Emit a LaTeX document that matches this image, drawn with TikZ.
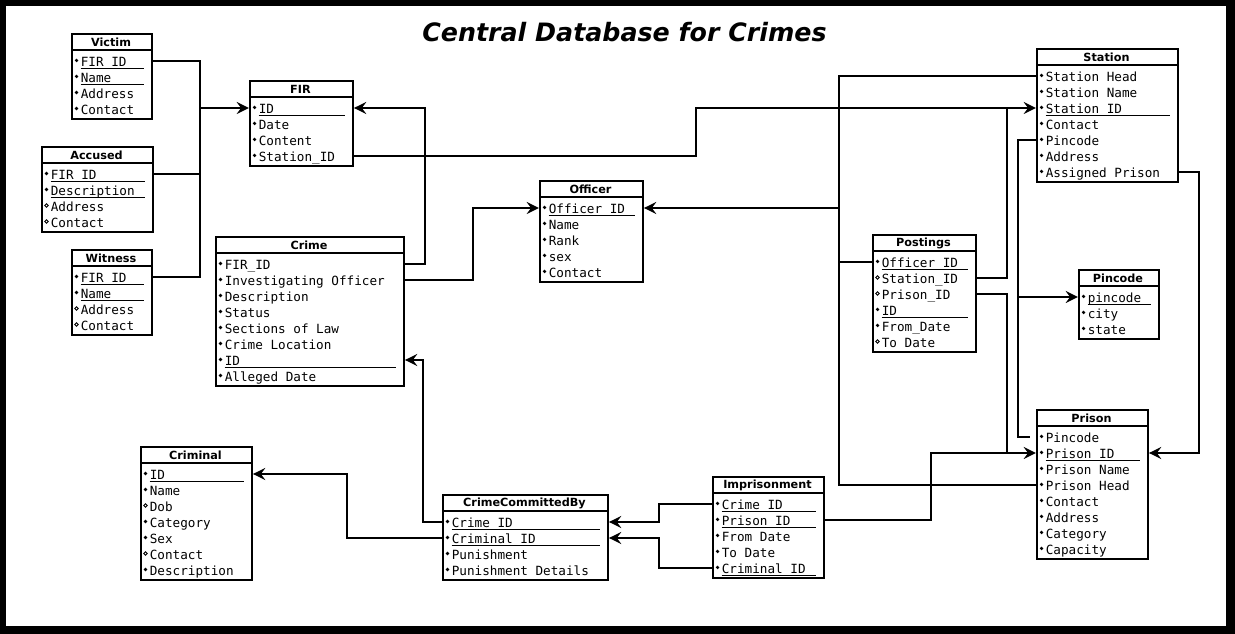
\documentclass[tikz,border=0pt]{standalone}
\usepackage{fontspec}
\setmainfont{DejaVu Sans}
\setsansfont{DejaVu Sans}
\setmonofont{DejaVu Sans Mono}
\usetikzlibrary{arrows.meta}
\tikzset{
        tablebox/.style={draw=black, line width=1.1pt, rectangle, inner sep=0pt},
        tablehead/.style={font=\sffamily\bfseries\fontsize{6.4}{7}\selectfont, inner sep=0pt},
        fieldtext/.style={font=\ttfamily\fontsize{7.2}{8}\selectfont, anchor=west, inner sep=0pt, text height=8.4pt, text depth=1.6pt},
        keyline/.style={line width=0.55pt},
        relline/.style={line width=1.1pt},
        relarrow/.style={line width=1.1pt, -{Stealth[length=7pt,width=6.8pt,inset=2.5pt]}},
        headline/.style={font=\sffamily\bfseries\itshape\fontsize{14.4}{17}\selectfont, inner sep=0pt}
          }
\newcommand{\erbox}[6]{%
  \node[tablehead] (#1-h) at (#3+#5/2,#4+9.5) {#2};
  \foreach \kind/\txt [count=\i] in {#6} {
    \pgfmathsetmacro\ry{#4+12+16*\i}
    \node[fieldtext] (#1-\i) at (#3+9.5,\ry) {\txt};
    \if o\kind \draw[line width=0.45pt] (#3+5.5,\ry-0.5) circle[radius=1pt];
    \else \fill (#3+5.5,\ry-0.5) circle[radius=1pt]; \fi
    \if k\kind \draw[keyline] (#3+9.5,\ry+7.5) -- (#3+#5-7.5,\ry+7.5); \fi
    \xdef\nrows{\i}
  }
  \draw[tablebox] (#3,#4+17) -- (#3+#5,#4+17);
  \node[tablebox, anchor=north west, minimum width=#5*0.02cm, minimum height=(21.5+16*\nrows)*0.02cm] (#1) at (#3,#4) {};
}

\begin{document}
\begin{tikzpicture}[x=0.02cm, y=-0.02cm]
  \useasboundingbox (0,0) rectangle (1235,634);
  \fill[black] (0,0) rectangle (1235,634);
  \fill[white] (6,6) rectangle (1226,626);
  \node[headline] (title) at (624.5,32) {Central Database for Crimes};

  \erbox{victim}{Victim}{71}{33}{80}{k/FIR ID, k/Name, f/Address, f/Contact}
  \erbox{accused}{Accused}{41}{146}{111}{k/FIR\_ID, k/Description, o/Address, o/Contact}
  \erbox{witness}{Witness}{71}{249}{80}{k/FIR ID, k/Name, o/Address, o/Contact}
  \erbox{fir}{FIR}{249}{80}{103}{k/ID, f/Date, f/Content, f/Station\_ID}
  \erbox{crime}{Crime}{215}{236}{188}{f/FIR\_ID, f/Investigating Officer, f/Description, f/Status, f/Sections of Law, f/Crime Location, k/ID, f/Alleged Date}
  \erbox{officer}{Officer}{539}{180}{103}{k/Officer ID, f/Name, f/Rank, f/sex, f/Contact}
  \erbox{criminal}{Criminal}{140}{446}{111}{k/ID, f/Name, o/Dob, f/Category, f/Sex, o/Contact, f/Description}
  \erbox{committed}{CrimeCommittedBy}{442}{494}{165}{k/Crime ID, k/Criminal ID, f/Punishment, f/Punishment Details}
  \erbox{imprison}{Imprisonment}{712}{476}{111}{k/Crime ID, k/Prison ID, f/From Date, f/To Date, k/Criminal ID}
  \erbox{postings}{Postings}{872}{234}{103}{k/Officer\_ID, o/Station\_ID, o/Prison\_ID, k/ID, f/From\_Date, o/To Date}
  \erbox{station}{Station}{1036}{48}{141}{f/Station Head, f/Station Name, k/Station ID, f/Contact, f/Pincode, f/Address, f/Assigned Prison}
  \erbox{pincode}{Pincode}{1078}{269}{80}{k/pincode, f/city, f/state}
  \erbox{prison}{Prison}{1036}{409}{111}{f/Pincode, k/Prison\_ID, f/Prison Name, f/Prison Head, f/Contact, f/Address, f/Category, f/Capacity}

  \path (fir.west |- fir-1) ++(-49,0) coordinate (firjoin);
  \draw[relline] (victim.east |- victim-1) -| (firjoin);
  \draw[relline] (witness.east |- witness-1) -| (firjoin);
  \draw[relline] (accused.east |- accused-1) -- (firjoin |- accused-1);
  \draw[relarrow] (firjoin) -- (fir.west |- fir-1);

  \draw[relarrow] (crime.east |- crime-1) -- ++(20,0) |- (fir.east |- fir-1);
  \draw[relarrow] (crime.east |- crime-2) -- ++(68,0) |- (officer.west |- officer-1);
  \draw[relarrow] (fir.east |- fir-4) -- ++(342,0) |- (station.west |- station-3);

  \draw[relarrow] (committed.west |- committed-1) -- ++(-19,0) |- (crime.east |- crime-7);
  \draw[relarrow] (committed.west |- committed-2) -- ++(-95,0) |- (criminal.east |- criminal-1);
  \draw[relarrow] (imprison.west |- imprison-1) -- ++(-53,0) |- (committed.east |- committed-1);
  \draw[relarrow] (imprison.west |- imprison-5) -- ++(-53,0) |- (committed.east |- committed-2);
  \draw[relarrow] (imprison.east |- imprison-2) -- ++(106,0) |- (prison.west |- prison-2);

  \path (station.west |- station-1) ++(-197,0) coordinate (otrunk);
  \draw[relline] (station.west |- station-1) -- (otrunk) |- (prison.west |- prison-4);
  \draw[relarrow] (otrunk |- officer-1) -- (officer.east |- officer-1);
  \draw[relline] (postings.west |- postings-1) -- (otrunk |- postings-1);

  \draw[relline] (postings.east |- postings-2) -- ++(30,0) coordinate (sttrunk) -- (sttrunk |- station-3);
  \draw[relline] (postings.east |- postings-3) -- ++(30,0) coordinate (prtrunk) -- (prtrunk |- prison-2);

  \draw[relline] (station.west |- station-5) -- ++(-18,0) coordinate (pctrunk) |- ([xshift=-0.12cm]prison.west |- prison-1);
  \draw[relarrow] (pctrunk |- pincode-1) -- (pincode.west |- pincode-1);
  \draw[relarrow] (station.east |- station-7) -- ++(20,0) |- (prison.east |- prison-2);
\end{tikzpicture}
\end{document}
